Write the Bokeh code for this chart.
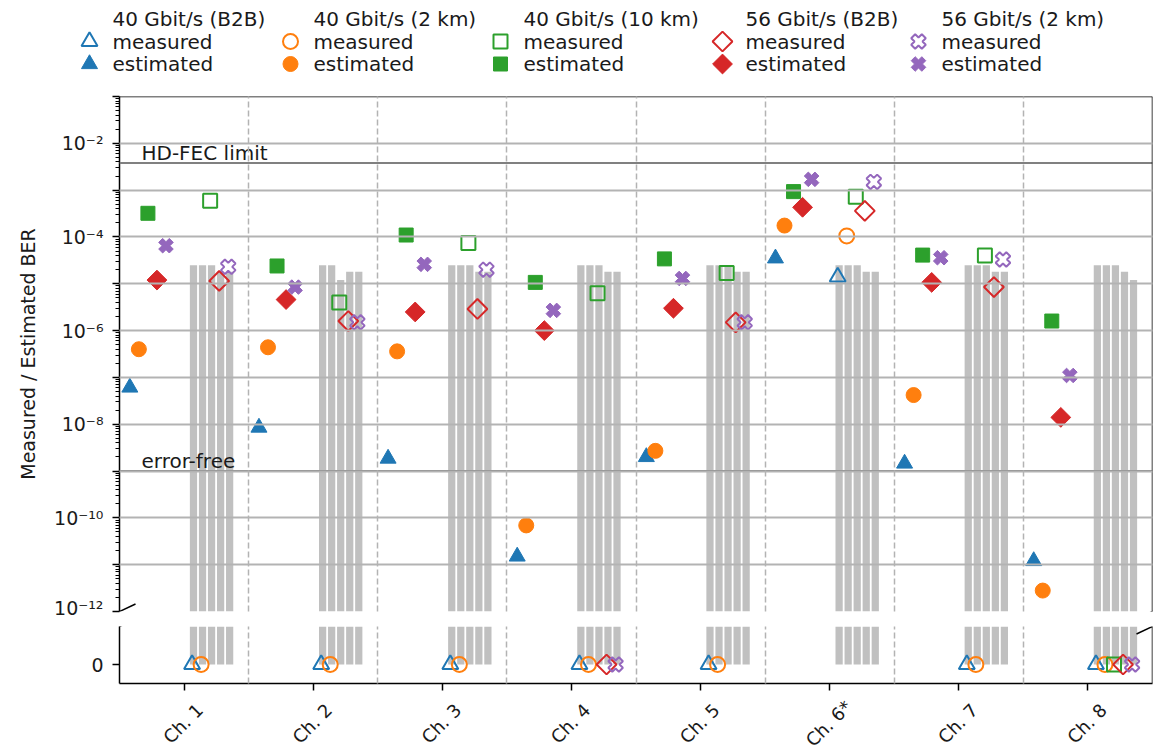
import math
from bokeh.plotting import figure
from bokeh.layouts import column
from bokeh.models import (Range1d, FixedTicker, CustomJSTickFormatter, Span, Label, Arrow)
from bokeh.core.properties import value
from bokeh.embed import file_html
from bokeh.resources import INLINE

# ---------------- data ----------------
channels = ["Ch. 1", "Ch. 2", "Ch. 3", "Ch. 4", "Ch. 5", "Ch. 6*", "Ch. 7", "Ch. 8"]
series_names = ["40 Gbit/s (B2B)", "40 Gbit/s (2 km)", "40 Gbit/s (10 km)",
                "56 Gbit/s (B2B)", "56 Gbit/s (2 km)"]
kind_names = ["measured", "estimated"]

est_40_b2b = [6.1e-8, 8.5e-9, 1.85e-9, 1.5e-11, 2.0e-9, 3.5e-5, 1.45e-9, 1.2e-11]
est_40_2km = [4.0e-7, 4.4e-7, 3.6e-7, 6.9e-11, 2.7e-9, 1.75e-4, 4.2e-8, 2.8e-12]
est_40_10km = [3.2e-4, 2.4e-5, 1.1e-4, 1.07e-5, 3.4e-5, 9.3e-4, 4.1e-5, 1.6e-6]
est_56_b2b = [1.2e-5, 4.6e-6, 2.5e-6, 1.0e-6, 3.0e-6, 4.3e-4, 1.07e-5, 1.4e-8]
est_56_2km = [6.5e-5, 8.5e-6, 2.6e-5, 2.7e-6, 1.3e-5, 1.7e-3, 3.6e-5, 1.1e-7]

meas_40_b2b = [0, 0, 0, 0, 0, 1.4e-5, 0, 0]
meas_40_2km = [0, 0, 0, 0, 0, 1.05e-4, 0, 0]
meas_40_10km = [5.9e-4, 4.0e-6, 7.4e-5, 6.3e-6, 1.7e-5, 7.2e-4, 4.0e-5, 0]
meas_56_b2b = [1.15e-5, 1.6e-6, 2.9e-6, 0, 1.5e-6, 3.6e-4, 8.5e-6, 0]
meas_56_2km = [2.3e-5, 1.5e-6, 2.0e-5, 0, 1.5e-6, 1.5e-3, 3.3e-5, 0]

bar_1 = [2.5e-5, 2.5e-5, 2.5e-5, 2.5e-5, 2.5e-5, 2.5e-5, 2.5e-5, 2.5e-5]
bar_2 = [2.5e-5, 2.5e-5, 2.5e-5, 2.5e-5, 2.5e-5, 2.5e-5, 2.5e-5, 2.5e-5]
bar_3 = [2.5e-5, 1.2e-5, 2.5e-5, 2.5e-5, 2.5e-5, 2.5e-5, 2.5e-5, 2.5e-5]
bar_4 = [1.8e-5, 1.8e-5, 1.8e-5, 1.8e-5, 1.8e-5, 1.8e-5, 1.8e-5, 1.8e-5]
bar_5 = [1.8e-5, 1.8e-5, 1.8e-5, 1.8e-5, 1.8e-5, 1.8e-5, 1.8e-5, 1.2e-5]

HD_FEC = 3.8e-3
ERROR_FREE = 1e-9

# ---------------- styling / layout ----------------
FONT = "DejaVu Sans"
TXT = "#1a1a1a"
W = 1160
colors = ["#1f77b4", "#ff7f0e", "#2ca02c", "#d62728", "#9467bd"]
markers = ["triangle", "circle", "square", "square", "plus"]
angles = [0, 0, 0, math.pi / 4, math.pi / 4]
sizes = [16, 15, 14, 14, 15]
est_off = [-0.42, -0.35, -0.28, -0.21, -0.14]
meas_off = [0.062, 0.132, 0.202, 0.272, 0.342]
bar_off = [0.073, 0.143, 0.213, 0.283, 0.353]
GRID = "#b3b3b3"
# legend strip layout (pixels)
LEG_H = 93
leg_glyph_x = [89, 290, 500, 722, 918]
leg_row_y = [18.5, 41, 63.5]
# tick-label strip layout (pixels)
LAB_H = 57
LAB_Y = 28

est_sets = [est_40_b2b, est_40_2km, est_40_10km, est_56_b2b, est_56_2km]
meas_sets = [meas_40_b2b, meas_40_2km, meas_40_10km, meas_56_b2b, meas_56_2km]
bar_sets = [bar_1, bar_2, bar_3, bar_4, bar_5]

xr = Range1d(0.5, 8.5)
common = dict(output_backend="svg", toolbar_location=None, min_border_left=119,
              min_border_right=8, outline_line_color=None)

# ---------------- upper (log) panel ----------------
top = figure(width=W, height=525, x_range=xr, y_range=Range1d(1e-12, 1e-1),
             y_axis_type="log", x_axis_location=None, min_border_top=3,
             min_border_bottom=7, **common)

maj = [10.0 ** (-e) for e in range(1, 13)]
minor = [k * 10.0 ** e for e in range(-12, -1) for k in range(2, 10)]
yt = FixedTicker(ticks=maj, minor_ticks=minor)
top.yaxis.ticker = yt
top.ygrid.ticker = yt
top.yaxis.formatter = CustomJSTickFormatter(code="""
const e = Math.round(Math.log10(tick));
if (e % 2 !== 0) { return ""; }
const sup = {"-": "\u207b", "0": "\u2070", "1": "\u00b9", "2": "\u00b2", "3": "\u00b3",
             "4": "\u2074", "5": "\u2075", "6": "\u2076", "7": "\u2077", "8": "\u2078", "9": "\u2079"};
return "10" + String(e).split("").map((c) => sup[c]).join("");
""")
top.yaxis.axis_label = "Measured / Estimated BER"

xsep = FixedTicker(ticks=[1.5, 2.5, 3.5, 4.5, 5.5, 6.5, 7.5])

bx, bt = [], []
for k, bars in enumerate(bar_sets):
    for i, h in enumerate(bars):
        bx.append(i + 1 + bar_off[k])
        bt.append(h)
top.vbar(x=bx, top=bt, bottom=1e-16, width=0.056, fill_color="#c0c0c0", line_color=None)

for j in range(5):
    ex = [i + 1 + est_off[j] for i in range(8)]
    top.scatter(x=ex, y=est_sets[j], marker=markers[j], size=sizes[j], angle=angles[j],
                fill_color=colors[j], line_color=colors[j], line_width=1)
    mx = [i + 1 + meas_off[j] for i, v in enumerate(meas_sets[j]) if v > 0]
    my = [v for v in meas_sets[j] if v > 0]
    top.scatter(x=mx, y=my, marker=markers[j], size=sizes[j], angle=angles[j],
                fill_color=None, line_color=colors[j], line_width=2)

top.add_layout(Span(location=HD_FEC, dimension="width", line_color="#808080", line_width=2))
top.add_layout(Span(location=ERROR_FREE, dimension="width", line_color="#808080", line_width=2))
top.add_layout(Label(x=0.67, y=HD_FEC, text="HD-FEC limit", text_font=FONT,
                     text_font_size="20px", text_baseline="middle", y_offset=10,
                     text_color=TXT))
top.add_layout(Label(x=0.67, y=ERROR_FREE, text="error-free", text_font=FONT,
                     text_font_size="20px", text_baseline="middle", y_offset=10,
                     text_color=TXT))
top.add_layout(Span(location=1e-1, dimension="width", line_color="black", line_width=1.5))
top.add_layout(Span(location=8.5, dimension="height", line_color="black", line_width=1.5))

dx = 16 / 129.1
dd = 10 ** (7.5 / 46.77)
for xc in (0.5, 8.5):
    top.add_layout(Arrow(end=None, x_start=xc - dx, y_start=1e-12 / dd, x_end=xc + dx,
                         y_end=1e-12 * dd, line_color="black", line_width=1.5))

# ---------------- lower (zero) panel ----------------
bot = figure(width=W, height=77, x_range=xr, y_range=Range1d(-5e-6, 1e-5),
             min_border_top=8, min_border_bottom=12, **common)
bot.yaxis.ticker = FixedTicker(ticks=[0])
bot.yaxis.formatter = CustomJSTickFormatter(code="return '0';")
bot.ygrid.visible = False
bot.xaxis.ticker = FixedTicker(ticks=[1, 2, 3, 4, 5, 6, 7, 8])
bot.xaxis.formatter = CustomJSTickFormatter(code="return '';")

bot.vbar(x=bx, top=bt, bottom=0, width=0.056, fill_color="#c0c0c0", line_color=None)
for j in range(5):
    zx = [i + 1 + meas_off[j] for i, v in enumerate(meas_sets[j]) if v == 0]
    zy = [0 for v in meas_sets[j] if v == 0]
    bot.scatter(x=zx, y=zy, marker=markers[j], size=sizes[j], angle=angles[j],
                fill_color=None, line_color=colors[j], line_width=2)
bot.add_layout(Span(location=8.5, dimension="height", line_color="black", line_width=1.5))
ld = 7.5 * 1.5e-5 / 57.3
for xc in (0.5, 8.5):
    bot.add_layout(Arrow(end=None, x_start=xc - dx, y_start=1e-5 - ld, x_end=xc + dx,
                         y_end=1e-5 + ld, line_color="black", line_width=1.5))

for p in (top, bot):
    p.xgrid.ticker = xsep
    p.xgrid.grid_line_color = GRID
    p.xgrid.grid_line_width = 1.5
    p.xgrid.grid_line_dash = "6 3"
    p.xgrid.level = "overlay"
    for ax in p.axis:
        ax.axis_line_color = "black"
        ax.axis_line_width = 1.5
        ax.major_tick_line_color = "black"
        ax.major_tick_line_width = 1.5
        ax.major_tick_out = 7
        ax.major_tick_in = 0
        ax.minor_tick_line_color = "black"
        ax.minor_tick_line_width = 1
        ax.minor_tick_out = 4
        ax.minor_tick_in = 0
        ax.major_label_text_font = FONT
        ax.axis_label_text_font = FONT
        ax.axis_label_text_font_size = "19px"
        ax.axis_label_text_font_style = "normal"
        ax.axis_label_text_color = TXT
        ax.major_label_text_color = TXT
    p.yaxis.major_label_text_font_size = "19px"
    p.yaxis.major_label_standoff = 9
    p.yaxis.axis_label_standoff = 12

bot.xaxis.major_label_text_font_size = "1px"
bot.xaxis.major_label_standoff = 0
top.ygrid.grid_line_color = GRID
top.ygrid.grid_line_width = 2
top.ygrid.level = "overlay"

# ---------------- category labels strip (below the x axis) ----------------
lab = figure(width=W, height=LAB_H, x_range=xr, y_range=Range1d(0, LAB_H),
             x_axis_location=None, y_axis_location=None, min_border_top=0,
             min_border_bottom=0, **common)
lab.grid.visible = False
lab.text(x=[i + 1 for i in range(len(channels))], y=[LAB_H - LAB_Y] * len(channels),
         text=channels, angle=math.pi / 4, text_align="center", text_baseline="middle",
         text_font=value(FONT), text_font_size="18px", text_color=TXT, x_offset=-1)

# ---------------- legend strip ----------------
leg = figure(width=W, height=LEG_H, x_range=Range1d(0, W), y_range=Range1d(LEG_H, 0),
             x_axis_location=None, y_axis_location=None, output_backend="svg",
             toolbar_location=None, min_border=0, outline_line_color=None,
             frame_align=False)
leg.grid.visible = False
for j in range(5):
    gx = leg_glyph_x[j]
    leg.scatter(x=[gx], y=[leg_row_y[1]], marker=markers[j], size=sizes[j],
                angle=angles[j], fill_color=None, line_color=colors[j], line_width=2)
    leg.scatter(x=[gx], y=[leg_row_y[2]], marker=markers[j], size=sizes[j],
                angle=angles[j], fill_color=colors[j], line_color=colors[j], line_width=1)
    leg.text(x=[gx + 23] * 3, y=leg_row_y,
             text=[series_names[j], kind_names[0], kind_names[1]],
             text_font=value(FONT), text_font_size="20px", text_baseline="middle",
             text_align="left", text_color=TXT)

layout = column(leg, top, bot, lab)
open("out.html", "w").write(file_html(layout, INLINE, title="BER per channel"))
